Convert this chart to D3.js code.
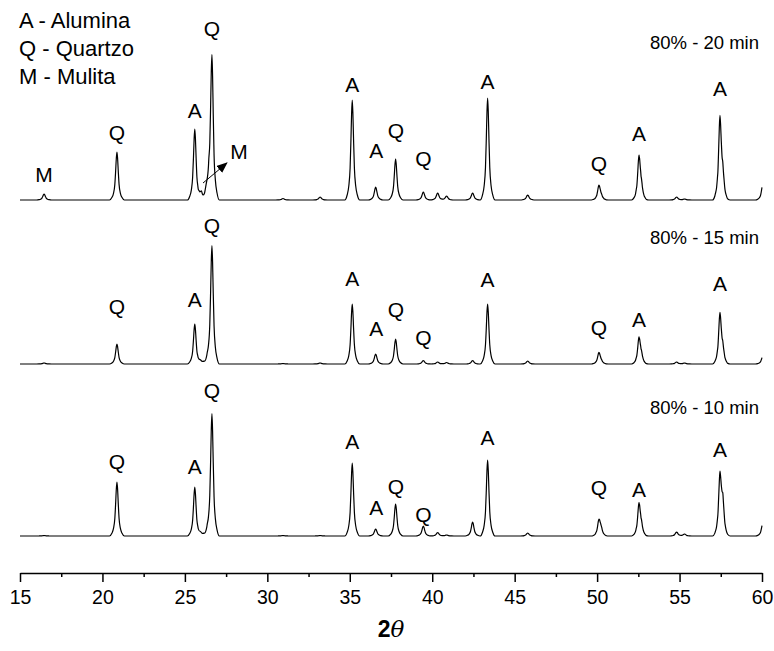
<!DOCTYPE html>
<html><head><meta charset="utf-8">
<script src="https://cdn.jsdelivr.net/npm/d3@7"></script>
<style>
body{margin:0;background:#fff}
svg{display:block}
text{font-family:"Liberation Sans",Arial,Helvetica,sans-serif;fill:#000}
</style>
</head><body>
<svg id="chart" width="774" height="651"></svg>
<script>
// ---------- data ----------
const sampleNames = ["80% - 20 min", "80% - 15 min", "80% - 10 min"];
const sampleNameLevel = [158, 127, 129];
const legendItems = ["A - Alumina", "Q - Quartzo", "M - Mulita"];
const majorTicks = [15, 20, 25, 30, 35, 40, 45, 50, 55, 60];
const minorTicks = [17.5, 22.5, 27.5, 32.5, 37.5, 42.5, 47.5, 52.5, 57.5];

// peak positions (2θ)
const peakPos = [16.46, 20.88, 25.60, 26.64, 30.95, 33.20, 35.15, 36.57, 37.78, 39.46, 40.33, 40.87, 42.45, 43.36, 45.79, 50.11, 50.24, 52.54, 52.68, 54.82, 55.30, 57.45, 57.62, 60.05];
// peak heights for each sample (same order as peakPos)
const h20 = [6, 48, 71, 140, 1.5, 3, 100, 13, 41, 8, 7, 4, 7, 102, 5, 14, 3, 42, 10, 3, 1, 80, 20, 16];
const h15 = [1, 20, 40, 118, 0.5, 1, 60, 10, 25, 3.5, 2, 1.5, 3.5, 60, 3, 11, 2, 25, 7, 2, 1, 49, 12, 8];
const h10 = [0.5, 54, 49, 122, 0.5, 0.5, 73, 7, 32, 10, 3.5, 1, 14, 76, 3, 15, 6, 31, 8, 4, 2, 58, 30, 13];
// broad background between 25.6 and 26.6 (mullite hump)
const hump20 = [[25.78, 0], [25.87, 3], [26.0, 8], [26.1, 5], [26.2, 7], [26.32, 12], [26.45, 15], [26.75, 0]];
const hump15 = [[25.78, 0], [25.92, 2.5], [26.35, 3], [26.7, 0]];
const hump10 = [[25.78, 0], [25.92, 2.5], [26.35, 3], [26.7, 0]];

// phase labels: [text, 2θ, level above baseline]
const lab20 = [["M", 16.46, 26], ["Q", 20.88, 68], ["A", 25.60, 90], ["Q", 26.64, 172], ["A", 35.15, 116], ["A", 36.60, 50], ["Q", 37.80, 70], ["Q", 39.46, 42], ["A", 43.36, 119], ["Q", 50.11, 37], ["A", 52.54, 67], ["A", 57.45, 112], ["M", 28.28, 49]];
const lab15 = [["Q", 20.88, 58], ["A", 25.60, 65], ["Q", 26.64, 139], ["A", 35.15, 86], ["A", 36.60, 36], ["Q", 37.80, 55], ["Q", 39.46, 27], ["A", 43.36, 85], ["Q", 50.11, 37], ["A", 52.54, 45], ["A", 57.45, 81]];
const lab10 = [["Q", 20.88, 75], ["A", 25.60, 70], ["Q", 26.64, 146], ["A", 35.15, 95], ["A", 36.60, 29], ["Q", 37.80, 50], ["Q", 39.46, 22], ["A", 43.36, 99], ["Q", 50.11, 49], ["A", 52.54, 47], ["A", 57.45, 87]];
// arrow pointing at mullite hump (top sample): [2θ, level]
const arrowFrom = [26.10, 17];
const arrowTo = [27.55, 37];

// ---------- drawing ----------
const svg = d3.select("#chart");
const x = d3.scaleLinear().domain([15, 60]).range([20, 762]);
const y = d3.scaleLinear().domain([0, 536]).range([536, 0]);
const offsets = [336, 172, 0];

// peak shape template (offset in degrees, fraction of height)
const profile = [[-0.45, 0], [-0.31, 0.05], [-0.21, 0.14], [-0.13, 0.32], [-0.08, 0.6], [-0.04, 0.86], [0, 1], [0.04, 0.86], [0.08, 0.6], [0.13, 0.32], [0.21, 0.14], [0.31, 0.05], [0.45, 0]];

function interp(pts, t) {
  if (t <= pts[0][0] || t >= pts[pts.length - 1][0]) return 0;
  for (let i = 1; i < pts.length; i++) {
    if (t <= pts[i][0]) {
      const a = pts[i - 1], b = pts[i];
      return a[1] + (b[1] - a[1]) * (t - a[0]) / (b[0] - a[0]);
    }
  }
  return 0;
}
function buildTrace(heights, hump) {
  const xs = new Set([15, 60]);
  peakPos.forEach(p => profile.forEach(q => { const v = +(p + q[0]).toFixed(3); if (v >= 15 && v <= 60) xs.add(v); }));
  hump.forEach(q => xs.add(q[0]));
  const arr = [...xs].sort((a, b) => a - b);
  return arr.map(t => {
    let v = 0;
    peakPos.forEach((p, i) => { v += heights[i] * interp(profile, t - p); });
    v += interp(hump, t);
    return [t, v];
  });
}

const traces = [buildTrace(h20, hump20), buildTrace(h15, hump15), buildTrace(h10, hump10)];
const labels = [lab20, lab15, lab10];

traces.forEach((tr, k) => {
  const off = offsets[k];
  const line = d3.line().x(d => x(d[0])).y(d => y(d[1] + off)).curve(d3.curveMonotoneX);
  svg.append("path").datum(tr).attr("d", line)
    .attr("fill", "none").attr("stroke", "#000").attr("stroke-width", 1.2);

  svg.append("g").selectAll("text").data(labels[k]).join("text")
    .attr("x", d => x(d[1])).attr("y", d => y(d[2] + off))
    .attr("dy", "0.36em").attr("text-anchor", "middle")
    .style("font-size", "21px").text(d => d[0]);

  svg.append("text").attr("x", 759).attr("y", y(sampleNameLevel[k] + off))
    .attr("dy", "0.36em").attr("text-anchor", "end")
    .style("font-size", "18.5px").text(sampleNames[k]);
});

// arrow
svg.append("defs").append("marker").attr("id", "ah")
  .attr("markerUnits", "userSpaceOnUse").attr("markerWidth", 11).attr("markerHeight", 9)
  .attr("refX", 10).attr("refY", 4.5).attr("orient", "auto")
  .append("path").attr("d", "M0,0 L11,4.5 L0,9 Z").attr("fill", "#000");
svg.append("line")
  .attr("x1", x(arrowFrom[0])).attr("y1", y(arrowFrom[1] + offsets[0]))
  .attr("x2", x(arrowTo[0])).attr("y2", y(arrowTo[1] + offsets[0]))
  .attr("stroke", "#000").attr("stroke-width", 1).attr("marker-end", "url(#ah)");

// legend
svg.append("g").selectAll("text").data(legendItems).join("text")
  .attr("x", 19).attr("y", (d, i) => 20 + i * 27.8).attr("dy", "0.36em")
  .style("font-size", "22px").text(d => d);

// axis
const axisY = 573;
const gx = svg.append("g").attr("transform", `translate(0,${axisY})`)
  .call(d3.axisBottom(x).tickValues(majorTicks).tickSize(9).tickSizeOuter(0).tickPadding(8).tickFormat(d3.format("d")));
gx.select(".domain").attr("stroke-width", 1.5);
gx.selectAll(".tick line").attr("stroke-width", 1.5);
gx.selectAll(".tick text").style("font-size", "19.5px").attr("font-family", null);
gx.attr("font-family", null).attr("font-size", null);

const gm = svg.append("g").attr("transform", `translate(0,${axisY})`)
  .call(d3.axisBottom(x).tickValues(minorTicks).tickSize(4).tickFormat(""));
gm.select(".domain").remove();
gm.selectAll(".tick line").attr("stroke-width", 1.5);

// axis title
const title = svg.append("text").attr("x", x(37.5)).attr("y", 637).attr("text-anchor", "middle")
  .style("font-size", "23px").style("font-weight", "bold");
title.append("tspan").text("2");
title.append("tspan").style("font-style", "italic").style("font-family", "'DejaVu Serif', serif").style("font-weight", "normal").text("θ");
</script>
</body></html>
